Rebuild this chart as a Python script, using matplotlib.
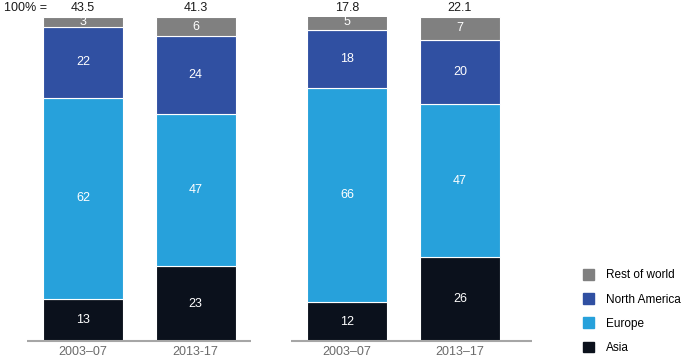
import matplotlib
matplotlib.use('Agg')
import matplotlib.pyplot as plt
from matplotlib.patches import Patch

plt.rcParams['font.family'] = ['Liberation Sans', 'DejaVu Sans']

# data
periods = ['2003\u201307', '2013-17', '2003\u201307', '2013\u201317']
totals = ['43.5', '41.3', '17.8', '22.1']
asia = [13, 23, 12, 26]
europe = [62, 47, 66, 47]
north_america = [22, 24, 18, 20]
rest_of_world = [3, 6, 5, 7]

series = [('Asia', asia, '#0b111c'),
          ('Europe', europe, '#27a1db'),
          ('North America', north_america, '#3050a2'),
          ('Rest of world', rest_of_world, '#808080')]

# layout (pixel-like x units)
xpos = [83, 195.5, 347, 460]
width = 80

fig = plt.figure(figsize=(6.84, 3.59), dpi=100)
ax = fig.add_axes([0, 18 / 359, 1, 324 / 359])
ax.set_xlim(0, 684)
ax.set_ylim(0, 100)
ax.axis('off')

bottom = [0, 0, 0, 0]
for name, vals, col in series:
    ax.bar(xpos, vals, width=width, bottom=bottom, color=col,
           edgecolor='white', linewidth=0.8, label=name)
    for x, b, v in zip(xpos, bottom, vals):
        ax.text(x, b + v / 2, str(v), ha='center', va='center',
                color='white', fontsize=9)
    bottom = [b + v for b, v in zip(bottom, vals)]

# baselines for the two groups
ax.plot([27, 251], [0, 0], color='#a6a6a6', lw=1.5, clip_on=False,
        solid_capstyle='butt')
ax.plot([291, 532], [0, 0], color='#a6a6a6', lw=1.5, clip_on=False,
        solid_capstyle='butt')

# totals on top
ax.text(4, 102.9, '100% =', ha='left', va='center', fontsize=9,
        color='#1a1a1a', clip_on=False)
for x, t in zip(xpos, totals):
    ax.text(x, 102.9, t, ha='center', va='center', fontsize=9,
            color='#1a1a1a', clip_on=False)

# period labels
for x, p in zip(xpos, periods):
    ax.text(x, -3.4, p, ha='center', va='center', fontsize=9,
            color='#6a6a6a', clip_on=False)

handles = [Patch(color=c, label=n) for n, v, c in series[::-1]]
ax.legend(handles=handles, loc='lower left', bbox_to_anchor=(0.843, -0.058),
          frameon=False, fontsize=8.5, handlelength=1.0, handleheight=1.0,
          labelspacing=1.0, handletextpad=1.0, borderpad=0)

fig.savefig('out.png', dpi=100)
